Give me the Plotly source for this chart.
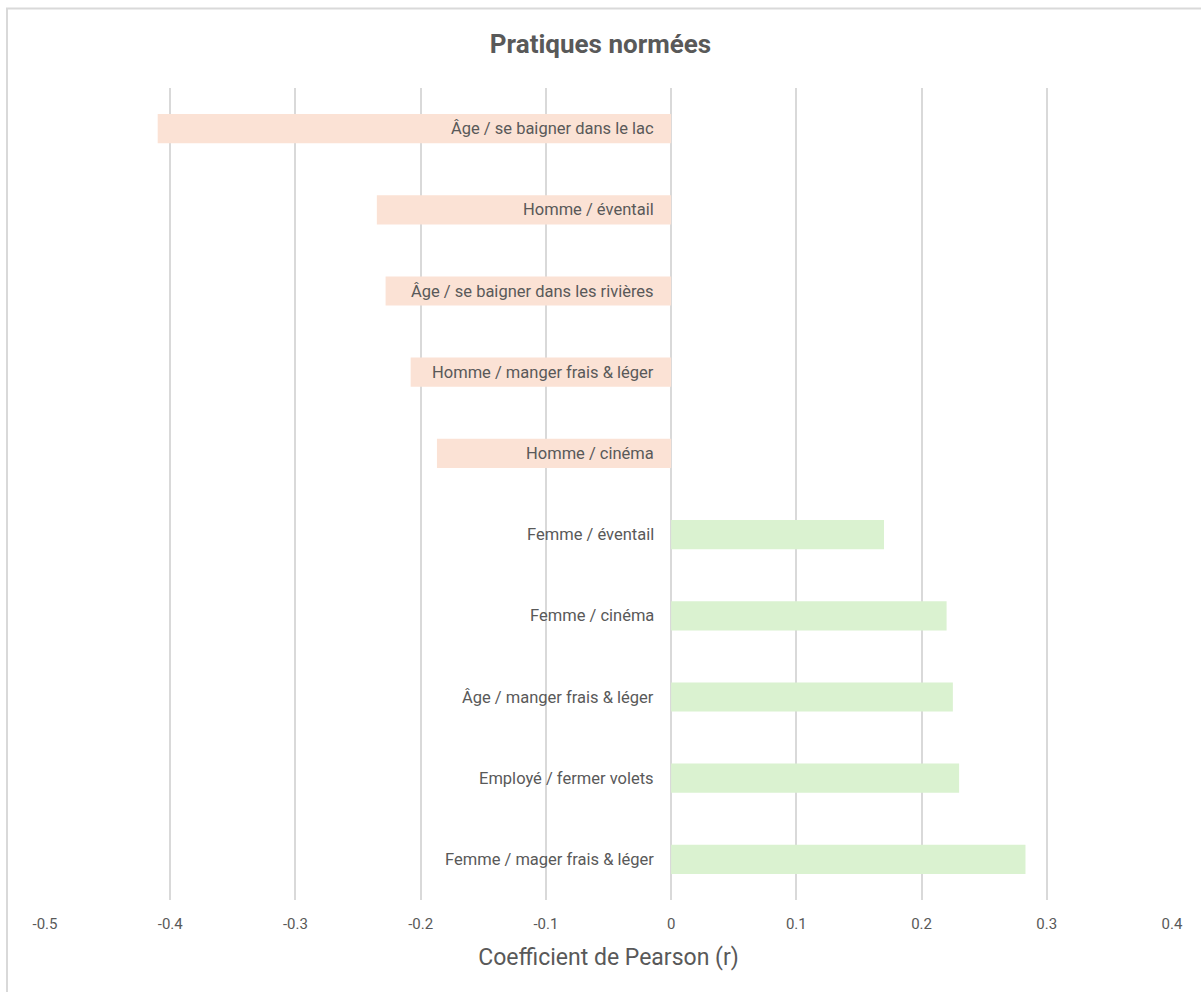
import plotly.graph_objects as go

categories = [
    "Âge / se baigner dans le lac",
    "Homme / éventail",
    "Âge / se baigner dans les rivières",
    "Homme / manger frais & léger",
    "Homme / cinéma",
    "Femme / éventail",
    "Femme / cinéma",
    "Âge / manger frais & léger",
    "Employé / fermer volets",
    "Femme / mager frais & léger",
]
values = [-0.41, -0.235, -0.228, -0.208, -0.187, 0.17, 0.22, 0.225, 0.23, 0.283]
tick_vals = [-0.5, -0.4, -0.3, -0.2, -0.1, 0, 0.1, 0.2, 0.3, 0.4]
tick_text = ["-0.5", "-0.4", "-0.3", "-0.2", "-0.1", "0", "0.1", "0.2", "0.3", "0.4"]

NEG = "#FBE2D5"
POS = "#DAF2D0"
TXT = "#595959"
GRID = "#D9D9D9"
FONT = "Roboto"

colors = [NEG if v < 0 else POS for v in values]

fig = go.Figure()
fig.add_trace(go.Bar(
    x=values, y=categories, orientation="h",
    marker=dict(color=colors, line=dict(width=0)),
    width=0.36, hoverinfo="x+y", showlegend=False,
))

for c in categories:
    fig.add_annotation(x=0, y=c, xref="x", yref="y", text=c, showarrow=False,
                       xanchor="right", yanchor="middle", xshift=-15,
                       font=dict(family=FONT, size=16.5, color=TXT))

fig.add_shape(type="rect", xref="paper", yref="paper",
              x0=-0.0337, x1=1.2, y0=-0.3, y1=1.0979,
              line=dict(color=GRID, width=2), fillcolor="rgba(0,0,0,0)", layer="below")

fig.update_layout(
    width=1201, height=992,
    margin=dict(l=45, r=29, t=88, b=92),
    paper_bgcolor="white", plot_bgcolor="white",
    title=dict(text="<b>Pratiques normées</b>", x=0.5, xanchor="center",
               y=1 - 44 / 992, yanchor="middle",
               font=dict(family=FONT, size=26, color=TXT)),
    font=dict(family=FONT, color=TXT),
    xaxis=dict(range=[-0.5, 0.4], tickvals=tick_vals, ticktext=tick_text,
               showgrid=True, gridcolor=GRID, gridwidth=2,
               zeroline=True, zerolinecolor=GRID, zerolinewidth=2,
               showline=False, ticks="", ticklabelstandoff=13,
               tickfont=dict(family=FONT, size=15, color=TXT),
               title=dict(text="Coefficient de Pearson (r)", standoff=16,
                          font=dict(family=FONT, size=23, color=TXT))),
    yaxis=dict(autorange="reversed", showticklabels=False, showgrid=False,
               zeroline=False, showline=False, ticks=""),
    bargap=0.64,
)

fig.write_html("out.html")
